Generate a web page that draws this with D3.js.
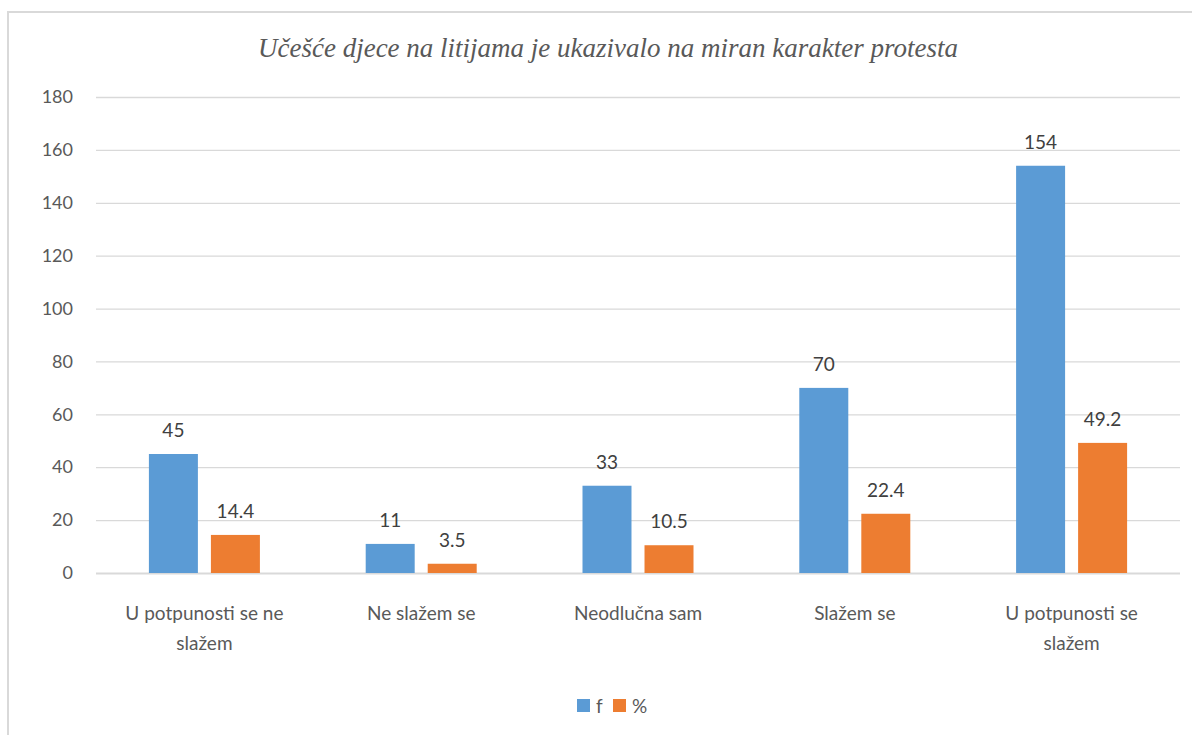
<!DOCTYPE html>
<html><head><meta charset="utf-8">
<script src="https://cdn.jsdelivr.net/npm/d3@7"></script>
<style>
body{margin:0;background:#fff;}
svg{display:block;}
</style></head>
<body>
<svg id="chart" width="1192" height="735"></svg>
<script>
const title = "Učešće djece na litijama je ukazivalo na miran karakter protesta";
const categories = ["U potpunosti se ne slažem", "Ne slažem se", "Neodlučna sam", "Slažem se", "U potpunosti se slažem"];
const seriesNames = ["f", "%"];
const fValues = [45, 11, 33, 70, 154];
const pctValues = [14.4, 3.5, 10.5, 22.4, 49.2];
const yTicks = [0, 20, 40, 60, 80, 100, 120, 140, 160, 180];
const colors = ["#5B9BD5", "#ED7D31"];

const svg = d3.select("#chart");
const W = 1192, H = 735;
const pLeft = 96, pRight = 1180, pTop = 97, pBottom = 573;

// frame
svg.append("rect").attr("x", 8).attr("y", 12).attr("width", W + 10).attr("height", H + 10)
  .attr("fill", "#fff").attr("stroke", "#d9d9d9").attr("stroke-width", 2);

svg.append("text").attr("x", 608).attr("y", 57).attr("text-anchor", "middle")
  .attr("font-family", "Liberation Serif").attr("font-style", "italic").attr("font-size", 27)
  .attr("fill", "#595959").text(title);

const y = d3.scaleLinear().domain([0, 180]).range([pBottom, pTop]);
const x0 = d3.scaleBand().domain(categories).range([pLeft, pRight]).paddingInner(0.488).paddingOuter(0.244);
const x1 = d3.scaleBand().domain(seriesNames).range([0, x0.bandwidth()]).paddingInner(0.21);

// grid
const yAxis = d3.axisLeft(y).tickValues(yTicks).tickSize(-(pRight - pLeft)).tickPadding(23);
const gy = svg.append("g").attr("transform", `translate(${pLeft},0)`).call(yAxis);
gy.select(".domain").remove();
gy.selectAll(".tick line").attr("stroke", "#d9d9d9").attr("stroke-width", 1.3);
gy.selectAll(".tick text").attr("font-family", "Lato").attr("font-size", 18).attr("fill", "#595959");
gy.selectAll(".tick").filter(d => d === 0).select("line").attr("stroke-width", 2);

const rows = categories.map((c, i) => ({cat: c, vals: [fValues[i], pctValues[i]]}));
const groups = svg.append("g").selectAll("g").data(rows).join("g")
  .attr("transform", d => `translate(${x0(d.cat)},0)`);
groups.selectAll("rect").data(d => d.vals.map((v, j) => ({s: seriesNames[j], v, j}))).join("rect")
  .attr("x", d => x1(d.s)).attr("width", x1.bandwidth())
  .attr("y", d => y(d.v)).attr("height", d => pBottom - y(d.v))
  .attr("fill", d => colors[d.j]);
groups.selectAll("text.val").data(d => d.vals.map((v, j) => ({s: seriesNames[j], v, j}))).join("text")
  .attr("class", "val")
  .attr("x", d => x1(d.s) + x1.bandwidth() / 2).attr("y", d => y(d.v) - 17)
  .attr("text-anchor", "middle").attr("font-family", "Lato").attr("font-size", 19).attr("fill", "#404040")
  .text(d => d.v);

// category labels with wrapping
const xAxis = d3.axisBottom(x0).tickSize(0).tickPadding(0);
const gx = svg.append("g").attr("transform", `translate(0,${pBottom})`).call(xAxis);
gx.select(".domain").remove();
gx.selectAll(".tick text").attr("font-family", "Lato").attr("font-size", 19).attr("fill", "#595959")
  .attr("dy", null).attr("y", 47)
  .each(function(d) {
    const t = d3.select(this);
    const words = d.split(" ");
    t.text(null);
    let line = [];
    let tspan = t.append("tspan").attr("x", 0).attr("y", 47);
    let lineNo = 0;
    for (const w of words) {
      line.push(w);
      tspan.text(line.join(" "));
      if (tspan.node().getComputedTextLength() > 180 && line.length > 1) {
        line.pop();
        tspan.text(line.join(" "));
        line = [w];
        lineNo++;
        tspan = t.append("tspan").attr("x", 0).attr("y", 47 + lineNo * 30).text(w);
      }
    }
  });

// legend
const lg = svg.append("g").attr("transform", "translate(577,699)");
seriesNames.forEach((s, i) => {
  const g = lg.append("g").attr("transform", `translate(${i * 36},0)`);
  g.append("rect").attr("width", 13).attr("height", 13).attr("fill", colors[i]);
  g.append("text").attr("x", 19).attr("y", 14).attr("font-family", "Lato").attr("font-size", 19)
    .attr("fill", "#595959").text(s);
});
</script>
</body></html>
